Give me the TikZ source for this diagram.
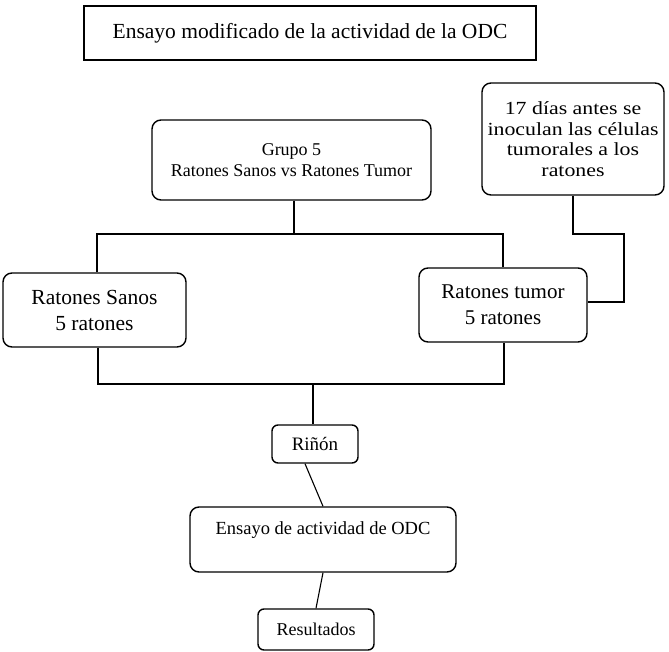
\documentclass[tikz,border=0pt]{standalone}
\usepackage{fontspec}
\setmainfont{Liberation Serif}
\newfontfamily\widefont[FakeStretch=1.18]{Liberation Serif}
\begin{document}
\begin{tikzpicture}[x=1pt,y=-1pt,
  box/.style={draw, line width=1.4pt, rounded corners=9pt, inner sep=0pt, align=center},
  smallbox/.style={box, rounded corners=6pt},
  titlebox/.style={draw, line width=1.4pt, inner sep=0pt, align=center},
  link/.style={line width=1.1pt}]
\useasboundingbox (0,0) rectangle (669,652);

% boxes
\node[titlebox, minimum width=452pt, minimum height=54pt,
      font=\fontsize{21.5}{26}\selectfont] (title) at (310,33)
  {Ensayo modificado de la actividad de la ODC};
\node[box, minimum width=279pt, minimum height=80pt,
      font=\fontsize{18}{21}\selectfont] (grupo) at (291.5,160)
  {Grupo 5\\Ratones Sanos vs Ratones Tumor};
\node[box, minimum width=182pt, minimum height=112pt,
      font=\widefont\fontsize{18.5}{20.5}\selectfont] (dias) at (573,139)
  {17 días antes se\\inoculan las células\\tumorales a los\\ratones};
\node[box, minimum width=183pt, minimum height=74pt,
      font=\fontsize{21.5}{26}\selectfont] (sanos) at (94.5,310)
  {Ratones Sanos\\5 ratones};
\node[box, minimum width=168pt, minimum height=74pt,
      font=\fontsize{21}{26}\selectfont] (tumor) at (503,305)
  {Ratones tumor\\5 ratones};
\node[smallbox, minimum width=86pt, minimum height=38pt,
      font=\fontsize{19}{22}\selectfont] (rinon) at (315,444) {Riñón};
\node[box, minimum width=266pt, minimum height=65pt,
      font=\fontsize{18.5}{22}\selectfont] (ensayo) at (323,539.5)
  {Ensayo de actividad de ODC\\ \mbox{}};
\node[smallbox, minimum width=116pt, minimum height=41pt,
      font=\fontsize{18}{21}\selectfont] (resultados) at (316,629.5) {Resultados};

% junction points
\coordinate (gsplit) at (294,234);
\coordinate (gleft) at (97,234);
\coordinate (gright) at (503,234);
\coordinate (dbend) at (573,234);
\coordinate (dcorner) at (624,234);
\coordinate (dlow) at (624,302);
\coordinate (bleft) at (98,384);
\coordinate (bright) at (504,384);
\coordinate (bmid) at (313,384);

% group split into the two sets of mice
\draw[link] (grupo.south -| gsplit) -- (gsplit);
\draw[link] (sanos.north -| gleft) -- (gleft) -- (gright) -- (tumor.north -| gright);

% tumour inoculation feeds the tumour group
\draw[link] (dias.south -| dbend) -- (dbend) -- (dcorner) -- (dlow) -- (tumor.east |- dlow);

% both groups join towards the kidney sample
\draw[link] (sanos.south -| bleft) -- (bleft) -- (bright) -- (tumor.south -| bright);
\draw[link] (bmid) -- (rinon.north -| bmid);

% assay chain
\draw[link] ([xshift=-10pt]rinon.south) -- (ensayo.north);
\draw[link] (ensayo.south) -- (resultados.north);
\end{tikzpicture}
\end{document}
